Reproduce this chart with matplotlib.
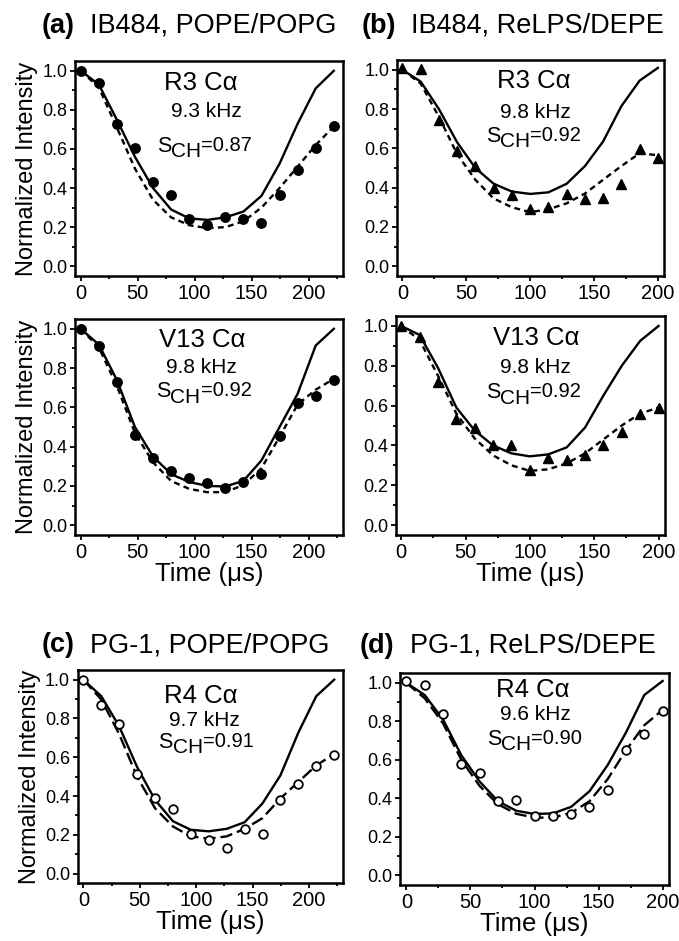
import matplotlib
matplotlib.use("Agg")
import matplotlib.pyplot as plt
from matplotlib.ticker import MultipleLocator, FormatStrFormatter
from matplotlib.text import Annotation

plt.rcParams['font.family'] = ['Liberation Sans', 'DejaVu Sans']

# dephasing times (microseconds)
t_pope = [0, 15.9, 31.7, 47.6, 63.5, 79.4, 95.2, 111.1, 127.0, 142.9, 158.7, 174.6, 190.5, 206.3, 222.2]
t_lps = [0, 14.3, 28.6, 42.9, 57.1, 71.4, 85.7, 100.0, 114.3, 128.6, 142.9, 157.1, 171.4, 185.7, 200.0]

# (a) IB484 in POPE/POPG
a_r3_exp = [1.0, 0.94, 0.73, 0.605, 0.43, 0.366, 0.24, 0.21, 0.254, 0.24, 0.22, 0.363, 0.494, 0.606, 0.716]
a_r3_rigid = [1.0, 0.93, 0.75, 0.56, 0.40, 0.29, 0.245, 0.237, 0.25, 0.28, 0.36, 0.525, 0.73, 0.91, 1.0]
a_r3_fit = [1.0, 0.915, 0.71, 0.50, 0.34, 0.25, 0.21, 0.195, 0.20, 0.23, 0.30, 0.40, 0.51, 0.62, 0.715]

a_v13_exp = [1.0, 0.915, 0.728, 0.459, 0.342, 0.277, 0.238, 0.216, 0.19, 0.221, 0.26, 0.452, 0.622, 0.66, 0.741]
a_v13_rigid = [1.0, 0.92, 0.74, 0.50, 0.35, 0.26, 0.22, 0.20, 0.197, 0.226, 0.33, 0.50, 0.67, 0.915, 1.0]
a_v13_fit = [1.0, 0.905, 0.71, 0.47, 0.32, 0.225, 0.185, 0.168, 0.168, 0.205, 0.29, 0.45, 0.615, 0.69, 0.745]

# (b) IB484 in ReLPS/DEPE
b_r3_exp = [1.01, 1.005, 0.744, 0.587, 0.511, 0.40, 0.36, 0.29, 0.30, 0.37, 0.34, 0.345, 0.42, 0.595, 0.55]
b_r3_rigid = [1.0, 0.94, 0.80, 0.63, 0.50, 0.42, 0.38, 0.368, 0.376, 0.42, 0.51, 0.635, 0.815, 0.945, 1.01]
b_r3_fit = [1.0, 0.93, 0.76, 0.57, 0.44, 0.345, 0.30, 0.275, 0.29, 0.32, 0.37, 0.44, 0.51, 0.575, 0.565]

b_v13_exp = [1.0, 0.944, 0.721, 0.532, 0.488, 0.40, 0.404, 0.274, 0.336, 0.329, 0.35, 0.40, 0.468, 0.556, 0.59]
b_v13_rigid = [1.0, 0.955, 0.79, 0.59, 0.475, 0.40, 0.36, 0.345, 0.355, 0.39, 0.49, 0.65, 0.80, 0.925, 1.0]
b_v13_fit = [1.0, 0.93, 0.75, 0.56, 0.435, 0.35, 0.30, 0.272, 0.28, 0.31, 0.36, 0.43, 0.50, 0.56, 0.59]

# (c) PG-1 in POPE/POPG
c_r4_exp = [1.0, 0.872, 0.774, 0.515, 0.388, 0.333, 0.204, 0.172, 0.133, 0.23, 0.206, 0.379, 0.461, 0.553, 0.614]
c_r4_rigid = [1.0, 0.915, 0.76, 0.55, 0.38, 0.27, 0.226, 0.218, 0.231, 0.265, 0.362, 0.507, 0.728, 0.915, 1.0]
c_r4_fit = [1.0, 0.898, 0.72, 0.50, 0.337, 0.243, 0.192, 0.18, 0.192, 0.231, 0.286, 0.388, 0.473, 0.558, 0.617]

# (d) PG-1 in ReLPS/DEPE
d_r4_exp = [1.01, 0.99, 0.836, 0.581, 0.531, 0.386, 0.39, 0.31, 0.31, 0.319, 0.353, 0.446, 0.649, 0.737, 0.853]
d_r4_rigid = [1.0, 0.937, 0.81, 0.624, 0.488, 0.386, 0.336, 0.319, 0.322, 0.356, 0.437, 0.573, 0.742, 0.937, 1.01]
d_r4_fit = [1.0, 0.92, 0.79, 0.60, 0.465, 0.37, 0.32, 0.30, 0.30, 0.325, 0.385, 0.50, 0.65, 0.78, 0.86]

W, H = 679, 941
fig = plt.figure(figsize=(W / 100, H / 100), dpi=100)


def add_axes_px(left, right, top, bottom):
    return fig.add_axes([left / W, 1 - bottom / H, (right - left) / W, (bottom - top) / H])


def style_axes(ax, xlim, xlabel, ylabel):
    ax.set_xlim(*xlim)
    ax.set_ylim(-0.05, 1.05)
    ax.xaxis.set_major_locator(MultipleLocator(50))
    ax.xaxis.set_minor_locator(MultipleLocator(25))
    ax.yaxis.set_major_locator(MultipleLocator(0.2))
    ax.yaxis.set_minor_locator(MultipleLocator(0.1))
    ax.yaxis.set_major_formatter(FormatStrFormatter('%.1f'))
    for s in ax.spines.values():
        s.set_linewidth(1.8)
    ax.tick_params(which='both', direction='out', top=False, right=False, width=1.3)
    ax.tick_params(which='major', length=3.5, pad=2)
    ax.tick_params(which='minor', length=2)
    ax.tick_params(axis='x', labelsize=14.5)
    ax.tick_params(axis='y', labelsize=13)
    if xlabel:
        ax.set_xlabel('Time (μs)', fontsize=18.5, labelpad=0)
    if ylabel:
        ax.set_ylabel('Normalized Intensity', fontsize=17, labelpad=3)


def label_block(ax, site, freq, sch, pos):
    (xs, ys), (xf, yf), (xsch, ysch) = pos
    ax.text(xs, ys, site, transform=ax.transAxes, ha='center', va='baseline', fontsize=18.5)
    ax.text(xf, yf, freq, transform=ax.transAxes, ha='center', va='baseline', fontsize=15)
    s = ax.text(xsch, ysch, 'S', transform=ax.transAxes, ha='left', va='baseline', fontsize=15.5)
    ch = ax.annotate('CH', xy=(1, 0), xycoords=s, xytext=(0, -3), textcoords='offset points',
                     ha='left', va='bottom', fontsize=15)
    ax.annotate('=' + sch, xy=(1, 0), xycoords=ch, xytext=(0, 4.5), textcoords='offset points',
                ha='left', va='bottom', fontsize=14.5)


def draw(ax, t, exp, rigid, fit, marker, dashes):
    ax.plot(t, rigid, color='black', lw=1.7, zorder=2)
    ax.plot(t, fit, color='black', lw=1.7, dashes=dashes, zorder=2)
    if marker == 'open':
        ax.plot(t, exp, linestyle='none', marker='o', ms=6.2, mfc='white', mec='black',
                mew=1.3, zorder=3)
    else:
        ax.plot(t, exp, linestyle='none', marker=marker, ms=6.8, color='black', zorder=3)


short_dash = (2.5, 1.8)
long_dash = (5.2, 2.1)

# (a) upper
ax = add_axes_px(75, 342.7, 61, 276)
draw(ax, t_pope, a_r3_exp, a_r3_rigid, a_r3_fit, 'o', short_dash)
style_axes(ax, (-5, 230), False, True)
label_block(ax, 'R3 Cα', '9.3 kHz', '0.87', ((0.47, 0.865), (0.49, 0.741), (0.305, 0.578)))

# (b) upper
ax = add_axes_px(397.3, 664.3, 60, 276)
draw(ax, t_lps, b_r3_exp, b_r3_rigid, b_r3_fit, '^', short_dash)
style_axes(ax, (-4, 205), False, False)
label_block(ax, 'R3 Cα', '9.8 kHz', '0.92', ((0.51, 0.869), (0.518, 0.73), (0.331, 0.622)))

# (a) lower
ax = add_axes_px(75, 342.7, 319, 535)
draw(ax, t_pope, a_v13_exp, a_v13_rigid, a_v13_fit, 'o', short_dash)
style_axes(ax, (-5, 230), True, True)
label_block(ax, 'V13 Cα', '9.8 kHz', '0.92', ((0.476, 0.872), (0.472, 0.749), (0.303, 0.637)))

# (b) lower
ax = add_axes_px(396, 665, 316, 535)
draw(ax, t_lps, b_v13_exp, b_v13_rigid, b_v13_fit, '^', short_dash)
style_axes(ax, (-4, 205), True, False)
label_block(ax, 'V13 Cα', '9.8 kHz', '0.92', ((0.52, 0.868), (0.519, 0.738), (0.333, 0.624)))

# (c)
ax = add_axes_px(77.7, 343, 670, 883.3)
draw(ax, t_pope, c_r4_exp, c_r4_rigid, c_r4_fit, 'open', long_dash)
style_axes(ax, (-5, 230), True, True)
label_block(ax, 'R4 Cα', '9.7 kHz', '0.91', ((0.465, 0.847), (0.476, 0.737), (0.304, 0.633)))

# (d)
ax = add_axes_px(400, 669, 673.3, 885)
draw(ax, t_lps, d_r4_exp, d_r4_rigid, d_r4_fit, 'open', long_dash)
style_axes(ax, (-5, 205), True, False)
label_block(ax, 'R4 Cα', '9.6 kHz', '0.90', ((0.494, 0.889), (0.503, 0.779), (0.322, 0.661)))


def panel_title(x_px, y_px, tag, text):
    t = fig.text(x_px / W, 1 - y_px / H, tag, ha='left', va='baseline', fontsize=19.5,
                 fontweight='bold')
    rest = Annotation('  ' + text, xy=(1, 0), xycoords=t, xytext=(0, 0),
                      textcoords='offset points', ha='left', va='bottom', fontsize=19.5,
                      annotation_clip=False)
    fig.add_artist(rest)


panel_title(42, 33, '(a)', 'IB484, POPE/POPG')
panel_title(362, 33, '(b)', 'IB484, ReLPS/DEPE')
panel_title(42, 652, '(c)', 'PG-1, POPE/POPG')
panel_title(360, 653, '(d)', 'PG-1, ReLPS/DEPE')

fig.savefig('out.png', dpi=100)
